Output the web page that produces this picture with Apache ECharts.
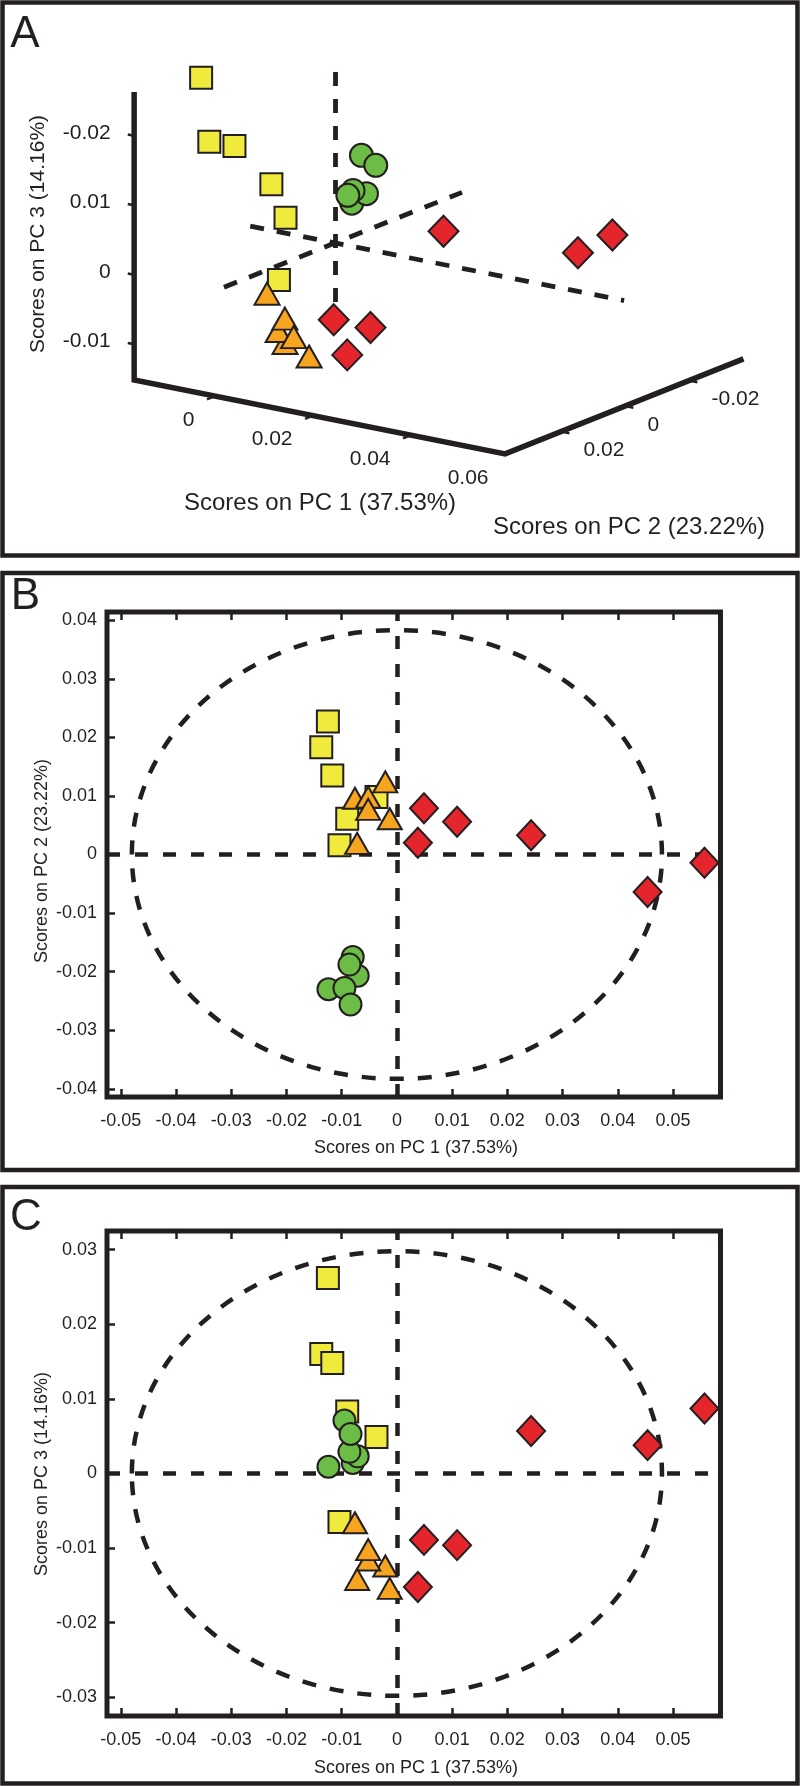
<!DOCTYPE html>
<html><head><meta charset="utf-8">
<script src="https://cdn.jsdelivr.net/npm/echarts@6/dist/echarts.min.js"></script>
<style>html,body{margin:0;padding:0;background:#fff}#c{width:800px;height:1786px}</style>
</head><body><div id="c"></div>
<script>
// ---------------- data: PCA scores (PC1, PC2, PC3) per group ----------------
const yellowPC1 = [-0.0125, -0.0137, -0.0117, -0.0037, -0.0090, -0.0104];
const yellowPC2 = [ 0.0227,  0.0183,  0.0135,  0.0098,  0.0061,  0.0016];
const yellowPC3 = [ 0.0262,  0.0160,  0.0148,  0.0049,  0.0083, -0.0065];

const greenPC1  = [-0.0080, -0.0071, -0.0086, -0.0124, -0.0095, -0.0084];
const greenPC2  = [-0.0175, -0.0207, -0.0188, -0.0230, -0.0228, -0.0256];
const greenPC3  = [ 0.0014,  0.0023,  0.0029,  0.0009,  0.0071,  0.0053];

const orangePC1 = [-0.0021, -0.0076, -0.0052, -0.0052, -0.0013, -0.0072];
const orangePC2 = [ 0.0124,  0.0096,  0.0098,  0.0077,  0.0061,  0.0019];
const orangePC3 = [-0.0124, -0.0066, -0.0116, -0.0102, -0.0154, -0.0142];

const redPC1    = [ 0.0049,  0.0109,  0.0038,  0.0243,  0.0454,  0.0557];
const redPC2    = [ 0.0079,  0.0056,  0.0020,  0.0033, -0.0064, -0.0014];
const redPC3    = [-0.0089, -0.0096, -0.0152,  0.0057,  0.0038,  0.0087];

// confidence ellipses [cx, cy, rx, ry]
const ellipseB = [0, 0, 0.0480, 0.0383];
const ellipseC = [0, 0, 0.0480, 0.0298];

// axis ranges
const rangePC1 = [-0.0525, 0.0586];
const rangePC2B = [-0.0414, 0.0414];
const rangePC3C = [-0.0325, 0.0325];

// tick values / labels
const ticksPC1 = [-0.05, -0.04, -0.03, -0.02, -0.01, 0, 0.01, 0.02, 0.03, 0.04, 0.05];
const ticksPC2B = [-0.04, -0.03, -0.02, -0.01, 0, 0.01, 0.02, 0.03, 0.04];
const ticksPC3C = [-0.03, -0.02, -0.01, 0, 0.01, 0.02, 0.03];

// 3-D panel (A): box extents, reference axes, ticks
const boxPC1 = [-0.0165, 0.0592];
const boxPC2 = [-0.0370, 0.0375];
const boxPC3 = [-0.01515, 0.0263];
const refPC1 = [-0.0173, 0.0590];
const refPC2 = [-0.0397, 0.0347];
const refPC3 = [-0.0085, 0.0262];
const aTicksPC1 = [0, 0.02, 0.04];
const aLabelsPC1Val = [0, 0.02, 0.04, 0.06];
const aLabelsPC1 = ['0', '0.02', '0.04', '0.06'];
const aTicksPC2 = [0.02, 0, -0.02];
const aLabelsPC2 = ['0.02', '0', '-0.02'];
const aTicksPC3 = [0.02, 0.01, 0, -0.01];
const aLabelsPC3 = ['-0.02', '0.01', '0', '-0.01'];

const titlePC1 = 'Scores on PC 1 (37.53%)';
const titlePC2 = 'Scores on PC 2 (23.22%)';
const titlePC3 = 'Scores on PC 3 (14.16%)';

// ---------------- styles ----------------
const INK = '#231f20';
const FONT = "'Liberation Sans', Arial, Helvetica, sans-serif";
const groups = [
  {pc1: yellowPC1, pc2: yellowPC2, pc3: yellowPC3, color: '#F0EA3C', symbol: 'rect', size: 22, sizeA: 22},
  {pc1: greenPC1,  pc2: greenPC2,  pc3: greenPC3,  color: '#6CBD45', symbol: 'circle', size: 22, sizeA: 23},
  {pc1: orangePC1, pc2: orangePC2, pc3: orangePC3, color: '#F7A520', symbol: 'triangle', size: [24, 21], sizeA: [25, 22]},
  {pc1: redPC1,    pc2: redPC2,    pc3: redPC3,    color: '#E4252B', symbol: 'diamond', size: [28, 30], sizeA: [30, 31]}
];

// oblique projection used for the 3-D view (pixels per score unit)
const VIEW = {ox: 335, oy: 243, e1: [4900, 975], e2: [-3200, 1275], e3: [0, -6950]};
function proj(p1, p2, p3) {
  return [VIEW.ox + VIEW.e1[0] * p1 + VIEW.e2[0] * p2 + VIEW.e3[0] * p3,
          VIEW.oy + VIEW.e1[1] * p1 + VIEW.e2[1] * p2 + VIEW.e3[1] * p3];
}
const fmt = v => Math.abs(v) < 1e-9 ? '0' : v.toFixed(2);

const chart = echarts.init(document.getElementById('c'), null, {renderer: 'canvas'});

const grids = [
  {left: 0, top: 0, width: 800, height: 560, show: false},
  {left: 107, top: 612, width: 613.5, height: 485, show: true, borderColor: INK, borderWidth: 5, backgroundColor: 'transparent'},
  {left: 107, top: 1231, width: 613.5, height: 485, show: true, borderColor: INK, borderWidth: 5, backgroundColor: 'transparent'}
];

function xAx(grid, pos, labels) {
  return {gridIndex: grid, type: 'value', position: pos, min: rangePC1[0], max: rangePC1[1],
    axisLine: {show: false, onZero: false}, splitLine: {show: false},
    axisTick: {show: true, inside: true, length: 8, lineStyle: {color: INK, width: 2.5}, customValues: ticksPC1},
    axisLabel: {show: labels, customValues: ticksPC1, formatter: fmt, fontSize: 18, color: INK, fontFamily: FONT, margin: 15}};
}
function yAx(grid, range, ticks) {
  return {gridIndex: grid, type: 'value', position: 'left', min: range[0], max: range[1],
    axisLine: {show: false, onZero: false}, splitLine: {show: false},
    axisTick: {show: true, inside: true, length: 8, lineStyle: {color: INK, width: 2.5}, customValues: ticks},
    axisLabel: {customValues: ticks, formatter: fmt, fontSize: 18, color: INK, fontFamily: FONT, margin: 10}};
}

const xAxes = [
  {gridIndex: 0, type: 'value', min: 0, max: 800, show: false},
  xAx(1, 'bottom', true), xAx(1, 'top', false),
  xAx(2, 'bottom', true), xAx(2, 'top', false)
];
const yAxes = [
  {gridIndex: 0, type: 'value', min: 0, max: 560, inverse: true, show: false},
  yAx(1, rangePC2B, ticksPC2B),
  yAx(2, rangePC3C, ticksPC3C)
];

const series = [];
const dashStyle = {color: INK, width: 4.5, type: [13, 15], cap: 'butt'};

// ---- panel A ----
series.push({
  type: 'lines', coordinateSystem: 'cartesian2d', xAxisIndex: 0, yAxisIndex: 0, silent: true, z: 1,
  lineStyle: {color: INK, width: 4.8, type: [14, 13], opacity: 1},
  data: [
    {coords: [proj(0, 0, refPC3[0]), proj(0, 0, refPC3[1])]},
    {coords: [proj(refPC1[0], 0, 0), proj(refPC1[1], 0, 0)]},
    {coords: [proj(0, refPC2[1], 0), proj(0, refPC2[0], 0)]}
  ]
});
series.push({
  type: 'line', xAxisIndex: 0, yAxisIndex: 0, symbol: 'none', silent: true, z: 2,
  lineStyle: {color: INK, width: 5.5, join: 'miter'},
  data: [proj(boxPC1[0], boxPC2[1], boxPC3[1]), proj(boxPC1[0], boxPC2[1], boxPC3[0]),
         proj(boxPC1[1], boxPC2[1], boxPC3[0]), proj(boxPC1[1], boxPC2[0], boxPC3[0])]
});
const tickSegs = [];
aTicksPC3.forEach(v => tickSegs.push({coords: [proj(boxPC1[0], boxPC2[1], v), proj(boxPC1[0] - 0.0013, boxPC2[1], v)]}));
aTicksPC1.forEach(v => tickSegs.push({coords: [proj(v, boxPC2[1], boxPC3[0]), proj(v, boxPC2[1] + 0.0025, boxPC3[0])]}));
aTicksPC2.forEach(v => tickSegs.push({coords: [proj(boxPC1[1], v, boxPC3[0]), proj(boxPC1[1] + 0.0017, v, boxPC3[0])]}));
series.push({type: 'lines', coordinateSystem: 'cartesian2d', xAxisIndex: 0, yAxisIndex: 0, silent: true, z: 2,
  lineStyle: {color: INK, width: 2.5, opacity: 1}, data: tickSegs});

function labelSeries(points, texts, position, distance, offset) {
  return {type: 'scatter', xAxisIndex: 0, yAxisIndex: 0, symbolSize: 1, silent: true, z: 2,
    itemStyle: {color: 'rgba(0,0,0,0)'},
    data: points.map((p, i) => ({value: p, name: texts[i]})),
    label: {show: true, formatter: p => p.name, position: position, distance: distance, offset: offset,
      fontSize: 21, color: INK, opacity: 1, textBorderWidth: 0, fontFamily: FONT}};
}
series.push(labelSeries(aTicksPC3.map(v => proj(boxPC1[0], boxPC2[1], v)), aLabelsPC3, 'left', 23, [0, -3]));
series.push(labelSeries(aLabelsPC1Val.map(v => proj(v, boxPC2[1], boxPC3[0])), aLabelsPC1, 'left', 20, [0, 24]));
series.push(labelSeries(aTicksPC2.map(v => proj(boxPC1[1], v, boxPC3[0])), aLabelsPC2, 'right', 22, [0, 19]));

groups.forEach(g => {
  series.push({type: 'scatter', xAxisIndex: 0, yAxisIndex: 0, z: 5, symbol: g.symbol, symbolSize: g.sizeA,
    itemStyle: {color: g.color, borderColor: INK, borderWidth: 2, opacity: 1},
    data: g.pc1.map((v, i) => proj(v, g.pc2[i], g.pc3[i]))});
});

// ---- panels B and C ----
function ellipseSeries(xi, yi, e) {
  return {type: 'custom', xAxisIndex: xi, yAxisIndex: yi, z: 1, silent: true, clip: false,
    data: [e], encode: {x: 0, y: 1},
    renderItem: (params, api) => {
      const c = api.coord([api.value(0), api.value(1)]);
      const s = api.size([api.value(2), api.value(3)], [api.value(0), api.value(1)]);
      return {type: 'ellipse', shape: {cx: c[0], cy: c[1], rx: s[0], ry: s[1]},
        style: {fill: 'none', stroke: INK, lineWidth: 4.5, lineDash: [14, 14]}};
    }};
}
function crossSeries(xi, yi) {
  return {type: 'line', xAxisIndex: xi, yAxisIndex: yi, data: [], z: 1, silent: true,
    markLine: {silent: true, symbol: 'none', label: {show: false}, animation: false,
      lineStyle: dashStyle, emphasis: {disabled: true},
      data: [{xAxis: 0}, {yAxis: 0}]}};
}
series.push(ellipseSeries(1, 1, ellipseB), crossSeries(1, 1));
series.push(ellipseSeries(3, 2, ellipseC), crossSeries(3, 2));
groups.forEach(g => {
  series.push({type: 'scatter', xAxisIndex: 1, yAxisIndex: 1, z: 5, symbol: g.symbol, symbolSize: g.size,
    itemStyle: {color: g.color, borderColor: INK, borderWidth: 2, opacity: 1},
    data: g.pc1.map((v, i) => [v, g.pc2[i]])});
});
groups.forEach(g => {
  series.push({type: 'scatter', xAxisIndex: 3, yAxisIndex: 2, z: 5, symbol: g.symbol, symbolSize: g.size,
    itemStyle: {color: g.color, borderColor: INK, borderWidth: 2, opacity: 1},
    data: g.pc1.map((v, i) => [v, g.pc3[i]])});
});

// ---- frames, panel letters, axis titles ----
function txt(s, x, y, size, rot) {
  return {type: 'text', x: x, y: y, rotation: rot || 0, silent: true, z: 10,
    style: {text: s, x: 0, y: 0, align: 'center', verticalAlign: 'middle', fill: INK,
      font: 'normal ' + size + 'px ' + FONT}};
}
const frame = (y, h) => ({type: 'rect', silent: true, z: 10, shape: {x: 2.5, y: y, width: 795, height: h},
  style: {fill: 'none', stroke: INK, lineWidth: 4.5}});
const graphic = [
  frame(2.5, 553), frame(573, 597), frame(1187, 596.5),
  txt('A', 25, 35, 44), txt('B', 25.5, 597, 44), txt('C', 26, 1218, 44),
  txt(titlePC3, 38, 234, 21, Math.PI / 2),
  txt(titlePC1, 320, 503, 24),
  txt(titlePC2, 629, 527, 24),
  txt(titlePC1, 416, 1148, 18),
  txt(titlePC2, 42, 861, 18, Math.PI / 2),
  txt(titlePC1, 416, 1768, 18),
  txt(titlePC3, 42, 1474, 18, Math.PI / 2)
];

chart.setOption({
  animation: false,
  backgroundColor: '#ffffff',
  textStyle: {fontFamily: FONT},
  grid: grids, xAxis: xAxes, yAxis: yAxes, series: series, graphic: graphic
});
</script></body></html>
